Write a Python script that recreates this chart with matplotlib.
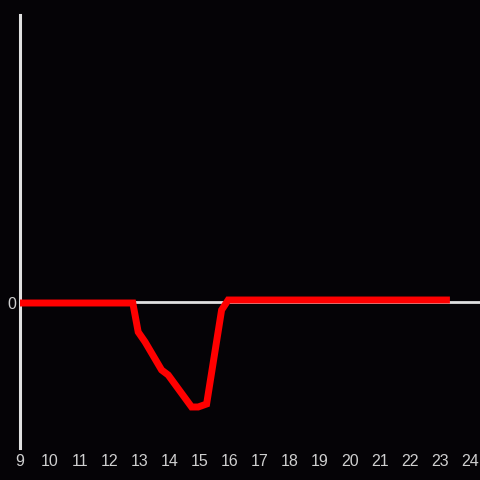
import matplotlib
matplotlib.use("Agg")
import matplotlib.pyplot as plt

# series (x in hours, y in arbitrary units)
x_vals = [9.0, 12.76, 12.94, 13.17, 13.72, 13.94, 14.72, 14.94, 15.22, 15.72, 15.94, 23.33]
y_vals = [0.0, 0.0, -0.29, -0.39, -0.67, -0.72, -1.04, -1.04, -1.01, -0.07, 0.03, 0.03]
x_ticks = list(range(9, 25))
y_ticks = [0]

BG = "#050306"
AXIS = "#e0e0e0"
TXT = "#cfcfcf"

fig = plt.figure(figsize=(4.8, 4.8), dpi=100, facecolor=BG)
ax = fig.add_axes([20 / 480, 32 / 480, 460 / 480, 433 / 480], facecolor=BG)

ax.axhline(0.01, color=AXIS, lw=2.0, zorder=1)
ax.plot(x_vals, y_vals, color="#ff0000", lw=5.0, solid_joinstyle="miter",
        solid_capstyle="butt", zorder=3, clip_on=False)

ax.set_xlim(9, 24.333)
ax.set_ylim(-1.45, 2.88)

for s in ("top", "right", "bottom"):
    ax.spines[s].set_visible(False)
ax.spines["left"].set_color(AXIS)
ax.spines["left"].set_linewidth(2.2)

ax.set_xticks(x_ticks)
ax.set_yticks(y_ticks)
ax.tick_params(length=0, colors=TXT, labelsize=11.5)
for lab in ax.get_xticklabels() + ax.get_yticklabels():
    lab.set_fontfamily("Liberation Sans")
ax.tick_params(axis="y", pad=3)
ax.tick_params(axis="x", pad=4)

fig.savefig("out.png", dpi=100, facecolor=BG)
